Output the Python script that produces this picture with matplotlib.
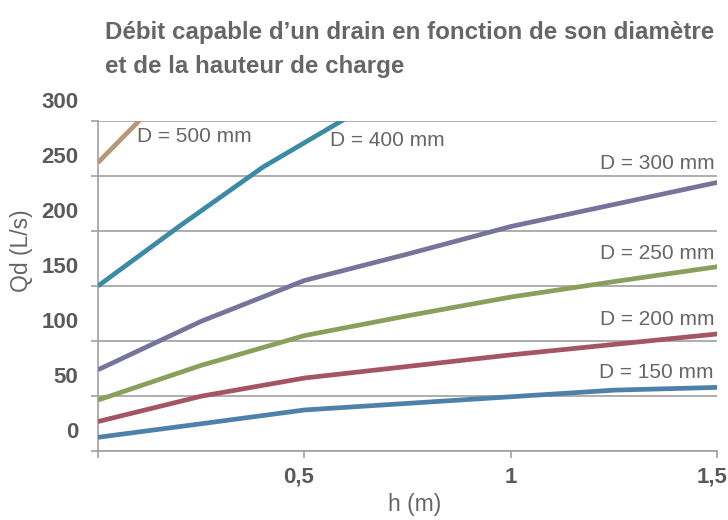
import matplotlib
matplotlib.use("Agg")
import matplotlib.pyplot as plt
import matplotlib.transforms as mtransforms

# values
h_500 = [0, 0.1]
q_500 = [262, 300]
h_400 = [0, 0.2, 0.4, 0.6]
q_400 = [150, 205, 258, 302]
h_pts = [0, 0.25, 0.5, 0.75, 1.0, 1.25, 1.5]
q_300 = [74, 118, 155, 179, 204, 224, 244]
q_250 = [46.5, 78, 105, 123, 140, 154, 167.5]
q_200 = [27, 50, 66.5, 77, 87.5, 97, 106.5]
q_150 = [12.7, 25, 37.5, 43.5, 49.5, 55.5, 58]

y_ticks = [0, 50, 100, 150, 200, 250, 300]
x_ticks = [0, 0.5, 1, 1.5]
x_labels = ["", "0,5", "1", "1,5"]

labels = ["D = 500 mm", "D = 400 mm", "D = 300 mm", "D = 250 mm", "D = 200 mm", "D = 150 mm"]

GRAY = "#666666"
TICKGRAY = "#5a5a5a"
GRID = "#a0a0a0"
FONT = ["Liberation Sans", "DejaVu Sans"]

fig = plt.figure(figsize=(7.28, 5.2), dpi=100)
ax = fig.add_axes([0.1346, 0.1321, 0.8507, 0.6358])

series = [
    (h_500, q_500, "#b8967a"),
    (h_400, q_400, "#3b8aa6"),
    (h_pts, q_300, "#76749a"),
    (h_pts, q_250, "#8a9f5c"),
    (h_pts, q_200, "#a35563"),
    (h_pts, q_150, "#4e81aa"),
]
for hx, qy, col in series:
    ax.plot(hx, qy, color=col, lw=3.4, solid_capstyle="butt", zorder=3)

# curve labels (position in data coords, alignment)
label_pos = [
    (0.095, 285.7, "left"),
    (0.562, 282, "left"),
    (1.4926, 261.6, "right"),
    (1.4926, 179.3, "right"),
    (1.4926, 119.4, "right"),
    (1.4900, 71.5, "right"),
]
for txt, (x, y, ha) in zip(labels, label_pos):
    ax.text(x, y, txt, ha=ha, va="center", fontsize=15, color=GRAY, family=FONT)

ax.set_xlim(0, 1.5)
ax.set_ylim(0, 300)
ax.set_yticks(y_ticks)
ax.set_xticks(x_ticks)
ax.set_xticklabels(x_labels)
ax.yaxis.grid(True, color=GRID, lw=1.2)
ax.set_axisbelow(True)

for s in ["top", "right"]:
    ax.spines[s].set_visible(False)
for s in ["left", "bottom"]:
    ax.spines[s].set_color(GRID)
    ax.spines[s].set_linewidth(1.2)

ax.tick_params(axis="both", direction="out", length=5, width=1.2, color=GRID,
               labelcolor=TICKGRAY, labelsize=16)
ax.tick_params(axis="y", pad=9)
ax.tick_params(axis="x", pad=6)
for lab in ax.get_yticklabels() + ax.get_xticklabels():
    lab.set_fontweight("bold")
    lab.set_family(FONT)

# y labels sit above their grid lines in the reference
offset = mtransforms.ScaledTranslation(0, 21 / 100, fig.dpi_scale_trans)
for lab in ax.get_yticklabels():
    lab.set_transform(lab.get_transform() + offset)
# keep the last x label inside the figure
xlabs = ax.get_xticklabels()
shift = mtransforms.ScaledTranslation(-5 / 100, 0, fig.dpi_scale_trans)
xlabs[-1].set_transform(xlabs[-1].get_transform() + shift)
shift2 = mtransforms.ScaledTranslation(-6 / 100, 0, fig.dpi_scale_trans)
xlabs[1].set_transform(xlabs[1].get_transform() + shift2)

fig.text(415 / 728, 1 - 505 / 520, "h (m)", ha="center", va="center",
         fontsize=16.5, color=GRAY, family=FONT)
fig.text(21.7 / 728, 1 - 251 / 520, "Qd (L/s)", rotation=90, ha="center", va="center",
         fontsize=16.5, color=GRAY, family=FONT)

fig.text(105 / 728, 1 - 33 / 520, "Débit capable d’un drain en fonction de son diamètre",
         ha="left", va="center", fontsize=17.4, fontweight="bold", color=GRAY,
         family=FONT)
fig.text(105 / 728, 1 - 67 / 520, "et de la hauteur de charge",
         ha="left", va="center", fontsize=17.4, fontweight="bold", color=GRAY,
         family=FONT)

fig.savefig("out.png", dpi=100)
